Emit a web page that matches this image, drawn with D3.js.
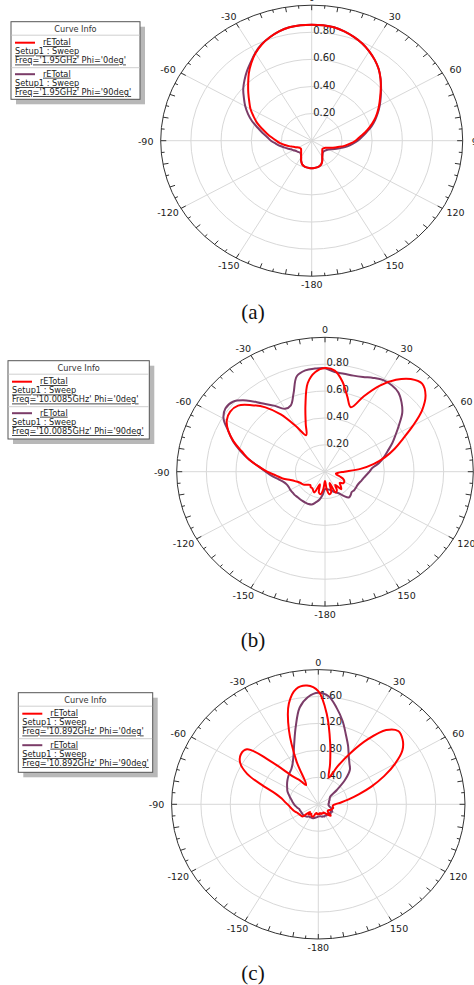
<!DOCTYPE html>
<html>
<head>
<meta charset="utf-8">
<script src="https://cdn.jsdelivr.net/npm/d3@7"></script>
<style>
  body { margin: 0; background: #fff; }
  text { font-family: "DejaVu Sans", sans-serif; }
</style>
</head>
<body>
<svg id="chart" width="474" height="985"></svg>
<script>
// sampling grid of the patterns, degrees (-180 .. 175)
const angleDeg = d3.range(-180, 180, 5);

// (a) 1.95 GHz
const rA_phi0 = [.203,.202,.200,.195,.185,.165,.140,.122,.109,.099,.093,.094,.100,.115,.130,.155,.180,.210,
  .235,.265,.300,.340,.385,.425,.468,.505,.548,.595,.648,.698,.745,.783,.812,.835,.850,.855,
  .856,.855,.850,.835,.815,.792,.762,.728,.690,.645,.597,.553,.515,.478,.440,.400,.360,.320,
  .290,.255,.220,.180,.150,.125,.105,.097,.093,.099,.109,.122,.140,.165,.185,.195,.200,.202];
const rA_phi90 = [.203,.202,.200,.195,.185,.165,.140,.125,.117,.120,.125,.130,.140,.150,.170,.190,.215,.240,
  .270,.295,.330,.370,.420,.465,.508,.548,.592,.630,.668,.705,.748,.785,.812,.835,.850,.855,
  .856,.855,.850,.835,.815,.792,.762,.728,.690,.645,.600,.558,.520,.483,.447,.410,.370,.335,
  .305,.272,.240,.205,.175,.150,.130,.120,.115,.112,.115,.125,.140,.165,.185,.195,.200,.202];

// (b) 10.0085 GHz
const rB_phi0 = [.07,.13,.17,.16,.10,.17,.16,.15,.15,.14,.15,.17,.18,.19,.21,.24,.29,.33,
  .39,.45,.52,.58,.655,.72,.765,.78,.765,.70,.625,.52,.39,.30,.38,.51,.67,.745,
  .771,.755,.68,.58,.51,.62,.74,.835,.90,.926,.885,.80,.685,.58,.50,.42,.335,.24,
  .13,.09,.075,.08,.11,.14,.15,.15,.13,.15,.17,.12,.16,.17,.09,.16,.17,.13];
const rB_phi90 = [.13,.17,.21,.235,.26,.265,.265,.265,.265,.265,.268,.268,.27,.27,.275,.29,.32,.36,
  .40,.45,.52,.59,.66,.72,.79,.82,.81,.75,.665,.60,.54,.545,.62,.735,.765,.77,
  .77,.745,.74,.74,.75,.77,.787,.785,.77,.73,.68,.61,.55,.50,.45,.41,.37,.32,
  .30,.28,.265,.255,.245,.24,.24,.24,.235,.245,.25,.22,.185,.17,.155,.14,.135,.13];

// (c) 10.892 GHz
const rC_phi0 = [.14,.15,.13,.14,.19,.20,.19,.17,.20,.16,.28,.29,.30,.31,.33,.35,.37,.39,
  .42,.46,.51,.60,.80,1.07,1.23,1.29,1.27,.87,.54,.43,.33,.70,1.17,1.55,1.74,1.77,
  1.68,1.34,.93,.62,.42,.62,.88,1.18,1.44,1.54,1.50,1.40,1.21,.99,.77,.57,.42,.31,
  .23,.20,.20,.21,.20,.19,.17,.16,.17,.24,.20,.16,.14,.15,.14,.15,.13,.15];
const rC_phi90 = [.18,.19,.20,.21,.22,.22,.22,.22,.24,.25,.26,.26,.26,.26,.265,.27,.29,.31,
  .33,.35,.37,.40,.43,.465,.49,.52,.55,.58,.61,.64,.70,.80,.96,1.19,1.46,1.60,
  1.655,1.61,1.45,1.28,1.10,.96,.83,.74,.67,.52,.33,.20,.18,.17,.16,.15,.15,.14,
  .14,.14,.15,.17,.19,.20,.22,.20,.22,.20,.19,.20,.19,.20,.19,.19,.18,.18];

const angleTicks = [0, 30, 60, 90, 120, 150, 180, 210, 240, 270, 300, 330];
const angleLabels = ["0", "30", "60", "90", "120", "150", "-180", "-150", "-120", "-90", "-60", "-30"];
const ringTicksAB = [0.2, 0.4, 0.6, 0.8];
const ringTicksC = [0.4, 0.8, 1.2, 1.6];
const freqs = ["1.95GHz", "10.0085GHz", "10.892GHz"];
const phis = ["0deg", "90deg"];
const captions = ["(a)", "(b)", "(c)"];

const seriesColor = ["#ff0000", "#7b3c68"];

// layout of the three panels
const panels = [
  { cx: 311.7, cy: 140.7, rx: 151, ry: 135.5, rmax: 1.0, rings: ringTicksAB, data: [rA_phi0, rA_phi90],
    legend: { x: 11, y: 21.7, w: 129, h: 77.6 }, capY: 319 },
  { cx: 325, cy: 471.7, rx: 148.3, ry: 134.4, rmax: 1.0, rings: ringTicksAB, data: [rB_phi0, rB_phi90],
    legend: { x: 8, y: 360.7, w: 141.3, h: 78.3 }, capY: 647 },
  { cx: 318.3, cy: 804.3, rx: 146.7, ry: 134.7, rmax: 2.0, rings: ringTicksC, data: [rC_phi0, rC_phi90],
    legend: { x: 18.3, y: 692.7, w: 134.4, h: 79.6 }, capY: 980 }
];

const svg = d3.select("#chart");
const ang = d3.scaleLinear().domain([-180, 180]).range([-Math.PI, Math.PI]);

panels.forEach((p, pi) => {
  const g = svg.append("g");
  const sx = d3.scaleLinear().domain([0, p.rmax]).range([0, p.rx]);
  const sy = d3.scaleLinear().domain([0, p.rmax]).range([0, p.ry]);
  const px = (a, r) => p.cx + sx(r) * Math.sin(ang(a));
  const py = (a, r) => p.cy - sy(r) * Math.cos(ang(a));

  // grid rings
  g.selectAll(".ring")
    .data(p.rings)
    .join("ellipse")
    .attr("cx", p.cx).attr("cy", p.cy)
    .attr("rx", d => sx(d)).attr("ry", d => sy(d))
    .attr("fill", "none").attr("stroke", "#d8d8d8").attr("stroke-width", 1);

  // spokes
  g.selectAll(".spoke")
    .data(angleTicks)
    .join("line")
    .attr("x1", p.cx).attr("y1", p.cy)
    .attr("x2", d => px(d, p.rmax)).attr("y2", d => py(d, p.rmax))
    .attr("stroke", "#d8d8d8").attr("stroke-width", 1);

  // outer boundary
  g.append("ellipse")
    .attr("cx", p.cx).attr("cy", p.cy)
    .attr("rx", p.rx).attr("ry", p.ry)
    .attr("fill", "none").attr("stroke", "#333").attr("stroke-width", 1);

  // minor ticks every 5 deg
  g.selectAll(".tick")
    .data(d3.range(0, 360, 5))
    .join("line")
    .attr("x1", d => px(d, p.rmax)).attr("y1", d => py(d, p.rmax))
    .attr("x2", d => px(d, p.rmax * (1 - (d % 10 === 0 ? 5 : 3) / p.ry)))
    .attr("y2", d => py(d, p.rmax * (1 - (d % 10 === 0 ? 5 : 3) / p.ry)))
    .attr("stroke", "#333").attr("stroke-width", 1);

  // angle labels
  g.selectAll(".alab")
    .data(angleTicks)
    .join("text")
    .attr("x", d => p.cx + (p.rx + 15) * Math.sin(ang(d)))
    .attr("y", d => p.cy - (p.ry + 8) * Math.cos(ang(d)) + 1.5)
    .attr("text-anchor", "middle")
    .attr("dominant-baseline", "middle")
    .attr("font-size", 9.5)
    .attr("fill", "#1a1a1a")
    .text((d, i) => angleLabels[i]);

  // radial labels
  g.selectAll(".rlab")
    .data(p.rings)
    .join("text")
    .attr("x", p.cx + 1.5)
    .attr("y", d => p.cy - sy(d) - 1)
    .attr("dominant-baseline", "middle")
    .attr("font-size", 10)
    .attr("fill", "#222")
    .text(d => d.toFixed(2));

  // curves: phi=90 underneath, phi=0 on top
  const line = d3.line()
    .x(d => px(d.a, d.r))
    .y(d => py(d.a, d.r))
    .curve(d3.curveCatmullRomClosed.alpha(0.5));

  [1, 0].forEach(si => {
    const pts = angleDeg.map((a, i) => ({ a: a, r: p.data[si][i] }));
    g.append("path")
      .attr("d", line(pts))
      .attr("fill", "none")
      .attr("stroke", seriesColor[si])
      .attr("stroke-width", 2)
      .attr("stroke-linejoin", "round");
  });

  // legend box "Curve Info"
  const L = p.legend;
  const lg = svg.append("g").attr("transform", `translate(${L.x},${L.y})`);
  lg.append("rect").attr("x", 5).attr("y", 5).attr("width", L.w).attr("height", L.h).attr("fill", "#b8b8b8");
  lg.append("rect").attr("width", L.w).attr("height", L.h).attr("fill", "#fff").attr("stroke", "#555").attr("stroke-width", 1);
  lg.append("text").attr("x", L.w / 2).attr("y", 7.5).attr("text-anchor", "middle")
    .attr("dominant-baseline", "middle").attr("font-size", 8.2).attr("fill", "#333").text("Curve Info");
  lg.append("line").attr("x1", 0.5).attr("x2", L.w - 0.5).attr("y1", 13.5).attr("y2", 13.5).attr("stroke", "#cfcfcf");
  lg.append("line").attr("x1", 0.5).attr("x2", L.w - 0.5).attr("y1", 46).attr("y2", 46).attr("stroke", "#cfcfcf");

  phis.forEach((phi, si) => {
    const y0 = 21 + si * 31.5;
    lg.append("line").attr("x1", 4).attr("x2", 24).attr("y1", y0).attr("y2", y0)
      .attr("stroke", seriesColor[si]).attr("stroke-width", 2);
    const rows = [["rETotal", 32, y0], ["Setup1 : Sweep", 4, y0 + 9.3], [`Freq='${freqs[pi]}' Phi='${phi}'`, 4, y0 + 18.3]];
    rows.forEach(r => {
      lg.append("text")
        .attr("x", r[1]).attr("y", r[2])
        .attr("dominant-baseline", "middle")
        .attr("font-size", 8.2)
        .attr("fill", "#222")
        .style("text-decoration", "underline")
        .text(r[0]);
    });
  });

  // caption
  svg.append("text")
    .attr("x", 253).attr("y", p.capY)
    .attr("text-anchor", "middle")
    .style("font-family", "'Liberation Serif', 'Times New Roman', serif")
    .attr("font-size", 21)
    .attr("fill", "#111")
    .text(captions[pi]);
});
</script>
</body>
</html>
